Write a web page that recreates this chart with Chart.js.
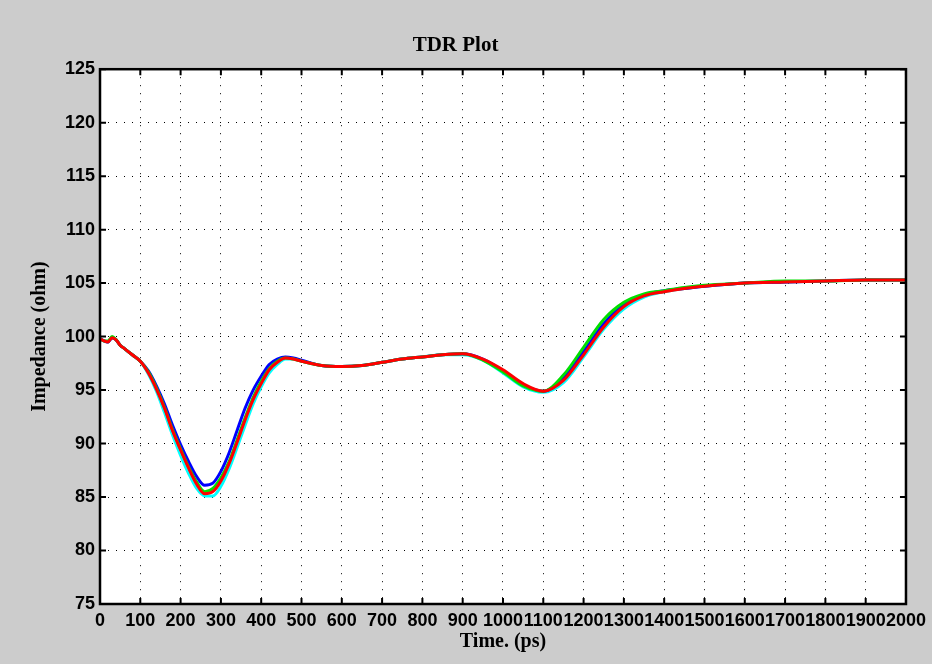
<!DOCTYPE html>
<html>
<head>
<meta charset="utf-8">
<script src="https://cdn.jsdelivr.net/npm/chart.js@4.4.0/dist/chart.umd.min.js"></script>
<style>
  html, body { margin: 0; padding: 0; background: #cccccc; }
  #wrap { width: 932px; height: 664px; }
</style>
</head>
<body>
<div id="wrap"><canvas id="tdrChart" width="932" height="664"></canvas></div>
<script>
// time axis (ps) shared by all traces
const times = [0, 10, 20, 30, 40, 50, 60, 80, 100, 120, 140, 160, 180, 200, 220, 240, 260, 280, 300, 320,
  340, 360, 380, 400, 420, 440, 460, 480, 500, 550, 600, 650, 700, 750, 800, 850, 900, 950, 1000, 1050,
  1100, 1150, 1200, 1250, 1300, 1350, 1400, 1450, 1500, 1600, 1700, 1800, 1900, 2000];

const redTrace = [99.8, 99.6, 99.5, 99.9, 99.7, 99.2, 98.9, 98.3, 97.7, 96.6, 95.1, 93.3, 91.2, 89.4, 87.7, 86.2, 85.3, 85.5, 86.5, 88.1,
  90.1, 92.2, 94.1, 95.6, 96.9, 97.6, 98.0, 97.9, 97.7, 97.3, 97.2, 97.3, 97.6, 97.9, 98.1, 98.3, 98.4, 97.9, 96.9, 95.6,
  94.9, 95.9, 98.3, 100.9, 102.8, 103.8, 104.2, 104.5, 104.7, 105.0, 105.1, 105.2, 105.3, 105.3];
const greenTrace = [99.8, 99.6, 99.6, 100.0, 99.7, 99.2, 98.9, 98.3, 97.7, 96.7, 95.2, 93.4, 91.3, 89.5, 87.8, 86.4, 85.5, 85.8, 86.8, 88.3,
  90.3, 92.4, 94.3, 95.8, 97.0, 97.7, 98.0, 97.9, 97.7, 97.3, 97.2, 97.3, 97.6, 97.9, 98.1, 98.3, 98.4, 97.8, 96.7, 95.4,
  94.9, 96.4, 99.0, 101.6, 103.2, 104.0, 104.3, 104.6, 104.8, 105.0, 105.2, 105.2, 105.3, 105.3];
const blueTrace = [99.8, 99.6, 99.5, 99.9, 99.7, 99.2, 98.9, 98.3, 97.7, 96.8, 95.4, 93.7, 91.7, 89.9, 88.3, 86.9, 86.1, 86.3, 87.4, 89.1,
  91.2, 93.3, 95.0, 96.3, 97.4, 97.9, 98.1, 98.0, 97.8, 97.3, 97.2, 97.3, 97.6, 97.9, 98.1, 98.3, 98.4, 97.9, 96.8, 95.5,
  94.9, 96.1, 98.6, 101.2, 103.0, 103.9, 104.3, 104.5, 104.7, 105.0, 105.1, 105.2, 105.3, 105.3];
const cyanTrace = [99.8, 99.6, 99.5, 99.9, 99.7, 99.2, 98.9, 98.3, 97.7, 96.5, 94.9, 92.9, 90.8, 88.9, 87.2, 85.8, 85.1, 85.1, 86.0, 87.6,
  89.6, 91.7, 93.7, 95.3, 96.6, 97.4, 97.9, 97.9, 97.7, 97.3, 97.2, 97.3, 97.6, 97.9, 98.1, 98.3, 98.3, 97.8, 96.6, 95.3,
  94.8, 95.7, 98.1, 100.7, 102.6, 103.7, 104.2, 104.5, 104.7, 105.0, 105.1, 105.2, 105.3, 105.3];

const xMin = 0, xMax = 2000, xStep = 100;
const yMin = 75, yMax = 125, yStep = 5;

const toPoints = vals => vals.map((v, i) => ({ x: times[i], y: v }));

// black frame + short inward ticks, like the old plotting tool
const framePlugin = {
  id: 'frame',
  afterDatasetsDraw(chart) {
    const { ctx, chartArea: a, scales } = chart;
    ctx.save();
    ctx.strokeStyle = '#000';
    ctx.lineWidth = 2;
    ctx.beginPath();
    scales.x.ticks.forEach(t => {
      const px = scales.x.getPixelForValue(t.value);
      ctx.moveTo(px, a.bottom); ctx.lineTo(px, a.bottom - 6);
      ctx.moveTo(px, a.top); ctx.lineTo(px, a.top + 6);
    });
    scales.y.ticks.forEach(t => {
      const py = scales.y.getPixelForValue(t.value);
      ctx.moveTo(a.left, py); ctx.lineTo(a.left + 6, py);
      ctx.moveTo(a.right, py); ctx.lineTo(a.right - 6, py);
    });
    ctx.stroke();
    ctx.lineWidth = 2.5;
    ctx.strokeRect(a.left, a.top, a.right - a.left, a.bottom - a.top);
    ctx.restore();
  }
};

const whiteArea = {
  id: 'whiteArea',
  beforeDraw(chart) {
    const { ctx, chartArea: a } = chart;
    ctx.save();
    ctx.fillStyle = '#ffffff';
    ctx.fillRect(a.left, a.top, a.right - a.left, a.bottom - a.top);
    ctx.restore();
  }
};

const tickFont = { family: "'Liberation Sans', Arial, sans-serif", size: 18, weight: 'bold' };
const serifBold = { family: "'Liberation Serif', 'Times New Roman', serif", weight: 'bold' };

const ctx = document.getElementById('tdrChart').getContext('2d');
const tdrChart = new Chart(ctx, {
  type: 'line',
  data: {
    datasets: [
      { label: 'red', data: toPoints(redTrace), borderColor: '#ff0000', borderWidth: 3 },
      { label: 'green', data: toPoints(greenTrace), borderColor: '#00e000', borderWidth: 3 },
      { label: 'blue', data: toPoints(blueTrace), borderColor: '#0000ff', borderWidth: 3 },
      { label: 'cyan', data: toPoints(cyanTrace), borderColor: '#00ffff', borderWidth: 3 }
    ]
  },
  options: {
    responsive: false,
    animation: false,
    devicePixelRatio: 1,
    layout: { padding: { left: 0, right: 21, top: 0, bottom: 0 } },
    elements: {
      point: { radius: 0 },
      line: { cubicInterpolationMode: 'monotone', fill: false }
    },
    plugins: {
      legend: { display: false },
      tooltip: { enabled: false },
      title: {
        display: true,
        text: 'TDR Plot',
        color: '#000',
        font: { ...serifBold, size: 21 },
        padding: { top: 33, bottom: 11 }
      }
    },
    scales: {
      x: {
        type: 'linear',
        min: xMin,
        max: xMax,
        afterFit: s => { s.height = 60; },
        ticks: {
          stepSize: xStep,
          autoSkip: false,
          maxRotation: 0,
          color: '#000',
          font: tickFont,
          padding: 6,
          callback: v => String(v)
        },
        grid: { color: '#000', lineWidth: 1, drawTicks: false },
        border: { display: false, dash: [1, 7] },
        title: {
          display: true,
          text: 'Time. (ps)',
          color: '#000',
          font: { ...serifBold, size: 20 },
          padding: { top: 0, bottom: 10 }
        }
      },
      y: {
        min: yMin,
        max: yMax,
        afterFit: s => { s.width = 100; },
        ticks: {
          stepSize: yStep,
          color: '#000',
          font: tickFont,
          padding: 5
        },
        grid: { color: '#000', lineWidth: 1, drawTicks: false },
        border: { display: false, dash: [1, 7] },
        title: {
          display: true,
          text: 'Impedance (ohm)',
          color: '#000',
          font: { ...serifBold, size: 20 },
          padding: { top: 28, bottom: 0 }
        }
      }
    }
  },
  plugins: [whiteArea, framePlugin]
});
</script>
</body>
</html>
